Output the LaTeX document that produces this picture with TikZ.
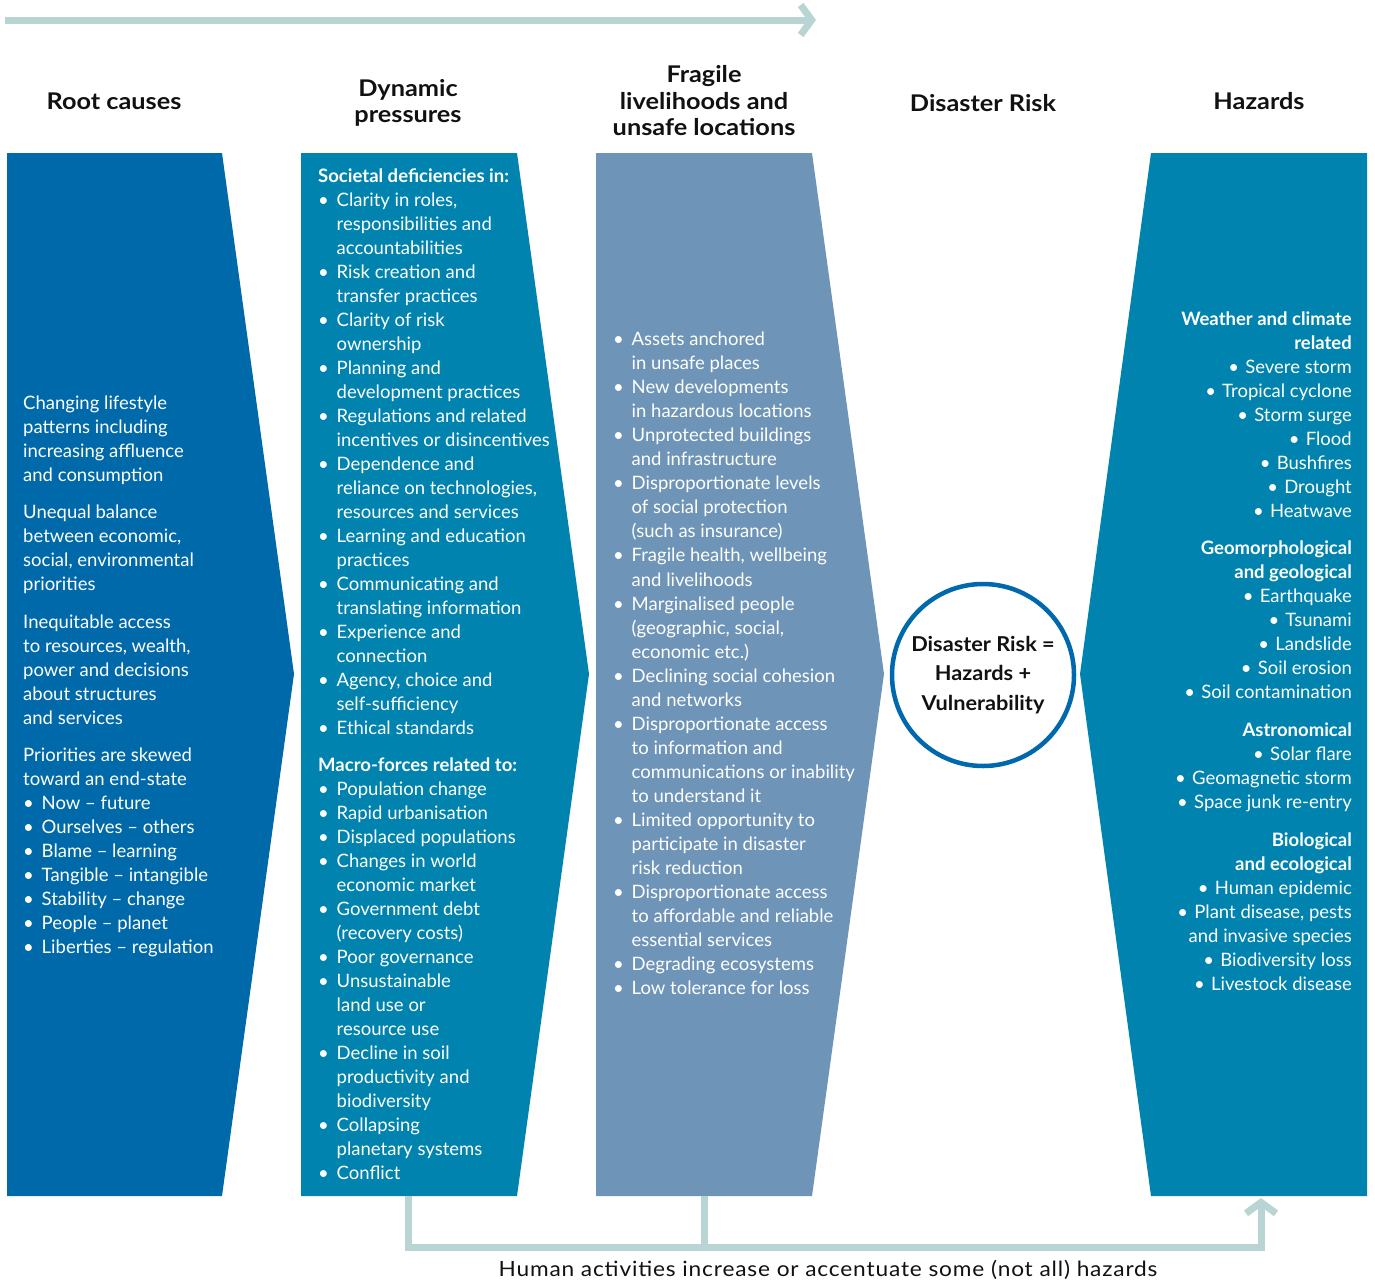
\documentclass[tikz,border=0pt]{standalone}
\usepackage{fontspec}
\setmainfont{Lato}
\newfontfamily\hdfont{Lato}[FakeStretch=1.1]
\newfontfamily\circfont{Lato}[FakeStretch=1.06]
\newfontfamily\notefont{Lato}[FakeStretch=1.08,LetterSpace=4]
\usetikzlibrary{arrows.meta}
\definecolor{rootc}{HTML}{0069AA}
\definecolor{dync}{HTML}{0083AE}
\definecolor{fragc}{HTML}{6E94B7}
\definecolor{arrc}{HTML}{B8D4D3}
\definecolor{circc}{HTML}{0068AD}
\definecolor{inkc}{HTML}{111111}
\newcommand\Pl[1]{\hbox{#1}}
\newcommand\Bl[1]{\hbox{\makebox[18.5pt][l]{\textbullet}#1}}
\newcommand\Cl[1]{\hbox{\hspace*{18.5pt}#1}}
\newcommand\Hd[1]{\hbox{\bfseries #1}}
\newcommand\Rl[1]{\hbox to 330pt{\hfill #1}}
\newcommand\Rb[1]{\hbox to 330pt{\hfill\makebox[17pt][l]{\textbullet}#1}}
\newcommand\Rh[1]{\hbox to 330pt{\hfill\bfseries #1}}
\newcommand\Gp{\vskip13.3pt}
\begin{document}
\begin{tikzpicture}[x=1pt,y=-1pt,
  body/.style={text=white,font=\fontsize{18.5}{24}\selectfont,inner sep=0pt,anchor=base west},
  bodyr/.style={body,anchor=base east},
  head/.style={text=inkc,font=\hdfont\fontsize{23}{26.5}\selectfont\bfseries,align=center,inner sep=0pt},
  conn/.style={draw=arrc,line width=7pt,line join=miter},
  tip/.style={-{Straight Barb[length=11pt,width=30pt]}}]
\useasboundingbox (0,0) rectangle (1375,1282);

% blocks
\fill[rootc] (7,153) -- (222,153) -- (294,674) -- (222,1196) -- (7,1196) -- cycle;
\fill[dync] (301,153) -- (517,153) -- (589,674) -- (517,1196) -- (301,1196) -- cycle;
\fill[fragc] (596,153) -- (812,153) -- (884,674) -- (812,1196) -- (596,1196) -- cycle;
\fill[dync] (1151,153) -- (1367,153) -- (1367,1196) -- (1151,1196) -- (1080,674) -- cycle;

% headers
\node[head] (h1) at (114,101) {Root causes};
\node[head] (h2) at (408,103) {Dynamic\\pressures};
\node[head] (h3) at (704,101) {Fragile\\livelihoods and\\unsafe locations};
\node[head] (h4) at (983,103) {Disaster Risk};
\node[head] (h5) at (1259,101) {Hazards};

% root causes
\node[body] (root) at (23,409.5) {\vtop{\baselineskip=24pt
\Pl{Changing lifestyle}\Pl{patterns including}\Pl{increasing affluence}\Pl{and consumption}\Gp
\Pl{Unequal balance}\Pl{between economic,}\Pl{social, environmental}\Pl{priorities}\Gp
\Pl{Inequitable access}\Pl{to resources, wealth,}\Pl{power and decisions}\Pl{about structures}\Pl{and services}\Gp
\Pl{Priorities are skewed}\Pl{toward an end-state}
\Bl{Now -- future}\Bl{Ourselves -- others}\Bl{Blame -- learning}\Bl{Tangible -- intangible}
\Bl{Stability -- change}\Bl{People -- planet}\Bl{Liberties -- regulation}}};

% dynamic pressures
\node[body] (dyn) at (318,182.5) {\vtop{\baselineskip=24pt
\Hd{Societal deficiencies in:}
\Bl{Clarity in roles,}\Cl{responsibilities and}\Cl{accountabilities}
\Bl{Risk creation and}\Cl{transfer practices}
\Bl{Clarity of risk}\Cl{ownership}
\Bl{Planning and}\Cl{development practices}
\Bl{Regulations and related}\Cl{incentives or disincentives}
\Bl{Dependence and}\Cl{reliance on technologies,}\Cl{resources and services}
\Bl{Learning and education}\Cl{practices}
\Bl{Communicating and}\Cl{translating information}
\Bl{Experience and}\Cl{connection}
\Bl{Agency, choice and}\Cl{self-sufficiency}
\Bl{Ethical standards}\Gp
\Hd{Macro-forces related to:}
\Bl{Population change}\Bl{Rapid urbanisation}\Bl{Displaced populations}
\Bl{Changes in world}\Cl{economic market}
\Bl{Government debt}\Cl{(recovery costs)}
\Bl{Poor governance}
\Bl{Unsustainable}\Cl{land use or}\Cl{resource use}
\Bl{Decline in soil}\Cl{productivity and}\Cl{biodiversity}
\Bl{Collapsing}\Cl{planetary systems}
\Bl{Conflict}}};

% fragile livelihoods
\node[body] (frag) at (613,345.5) {\vtop{\baselineskip=24.05pt
\Bl{Assets anchored}\Cl{in unsafe places}
\Bl{New developments}\Cl{in hazardous locations}
\Bl{Unprotected buildings}\Cl{and infrastructure}
\Bl{Disproportionate levels}\Cl{of social protection}\Cl{(such as insurance)}
\Bl{Fragile health, wellbeing}\Cl{and livelihoods}
\Bl{Marginalised people}\Cl{(geographic, social,}\Cl{economic etc.)}
\Bl{Declining social cohesion}\Cl{and networks}
\Bl{Disproportionate access}\Cl{to information and}\Cl{communications or inability}\Cl{to understand it}
\Bl{Limited opportunity to}\Cl{participate in disaster}\Cl{risk reduction}
\Bl{Disproportionate access}\Cl{to affordable and reliable}\Cl{essential services}
\Bl{Degrading ecosystems}
\Bl{Low tolerance for loss}}};

% hazards
\node[bodyr] (haz) at (1352,325.5) {\vtop{\baselineskip=24pt
\Rh{Weather and climate}\Rh{related}
\Rb{Severe storm}\Rb{Tropical cyclone}\Rb{Storm surge}\Rb{Flood}
\Rb{Bushfires}\Rb{Drought}\Rb{Heatwave}\Gp
\Rh{Geomorphological}\Rh{and geological}
\Rb{Earthquake}\Rb{Tsunami}\Rb{Landslide}\Rb{Soil erosion}\Rb{Soil contamination}\Gp
\Rh{Astronomical}
\Rb{Solar flare}\Rb{Geomagnetic storm}\Rb{Space junk re-entry}\vskip14pt
\Rh{Biological}\Rh{and ecological}
\Rb{Human epidemic}\Rb{Plant disease, pests}\Rl{and invasive species}
\Rb{Biodiversity loss}\Rb{Livestock disease}}};

% central circle
\node[circle,draw=circc,line width=4.5pt,fill=white,minimum size=182pt,inner sep=0pt,
  align=center,text=inkc,font=\circfont\fontsize{20.5}{29.5}\selectfont\bfseries] (risk) at (983,675)
  {Disaster Risk =\\Hazards +\\Vulnerability};

% top arrow
\coordinate (tA) at (5,20);
\coordinate (tB) at (816,20);
\draw[conn,tip] (tA) -- (tB);

% bottom connector
\coordinate (dynB) at (408,1196);
\coordinate (fragB) at (704,1196);
\coordinate (jL) at (408,1247);
\coordinate (jM) at (704,1247);
\coordinate (jR) at (1261,1247);
\coordinate (hazB) at (1261,1198);
\draw[conn,tip] (dynB) -- (jL) -- (jR) -- (hazB);
\draw[conn] (fragB) -- (jM);

\node[text=inkc,font=\notefont\fontsize{21}{24}\selectfont,inner sep=0pt] (note) at (828,1270)
  {Human activities increase or accentuate some (not all) hazards};
\end{tikzpicture}
\end{document}
